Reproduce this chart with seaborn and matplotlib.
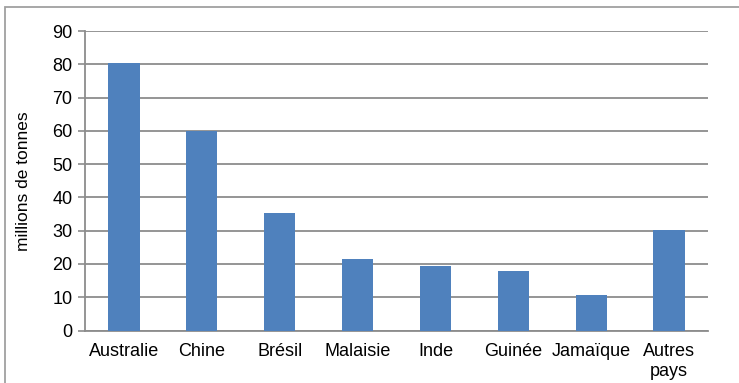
import matplotlib
matplotlib.use("Agg")
import matplotlib.pyplot as plt
import seaborn as sns
import pandas as pd
import numpy as np
from matplotlib.patches import Rectangle

# Production de bauxite par pays
pays = ["Australie", "Chine", "Brésil", "Malaisie", "Inde", "Guinée", "Jamaïque", "Autres\npays"]
production = [80.3, 60.0, 35.2, 21.4, 19.3, 17.8, 10.8, 30.3]
graduations = [0, 10, 20, 30, 40, 50, 60, 70, 80, 90]

df = pd.DataFrame({"pays": pays, "production": production})

sns.set_theme(style="white")
plt.rcParams["font.family"] = ["Liberation Sans", "DejaVu Sans"]

gris = "#8c8c8c"
fig = plt.figure(figsize=(7.39, 3.83), dpi=100)
ax = fig.add_axes([85 / 739, 1 - 330.5 / 383, 623 / 739, 299.5 / 383])

sns.barplot(data=df, x="pays", y="production", color="#4f81bd", width=0.4,
            saturation=1, linewidth=0, edgecolor="none", ax=ax, zorder=3)

ax.set_ylim(0, 90)
ax.set_xlim(-0.5, len(pays) - 0.5)
ax.set_yticks(graduations)
ax.set_yticklabels([str(g) for g in graduations], fontsize=13, color="black")
ax.yaxis.grid(True, color=gris, linewidth=1.3, zorder=0)
ax.xaxis.grid(False)

ax.set_xticks(range(len(pays)))
ax.set_xticklabels(pays, fontsize=13, color="black", linespacing=1.25)
ax.set_xticks(np.arange(-0.5, len(pays)), minor=True)
ax.tick_params(axis="x", which="major", length=0, pad=9)
ax.tick_params(axis="x", which="minor", length=5, width=1.2, color=gris, direction="out")
ax.tick_params(axis="y", length=5, width=1.2, color=gris, direction="out", pad=4, left=True)

ax.set_xlabel("")
ax.set_ylabel("millions de tonnes", fontsize=12.5, color="black", labelpad=15)

for side in ("top", "right"):
    ax.spines[side].set_visible(False)
for side in ("left", "bottom"):
    ax.spines[side].set_visible(True)
    ax.spines[side].set_color(gris)
    ax.spines[side].set_linewidth(1.3)

# Cadre du graphique
fig.patches.append(Rectangle((5 / 739, -0.05), 1.1, 1 - 7 / 383 + 0.05,
                             transform=fig.transFigure, fill=False,
                             edgecolor="#a0a0a0", linewidth=1.3))

fig.savefig("out.png", dpi=100)
